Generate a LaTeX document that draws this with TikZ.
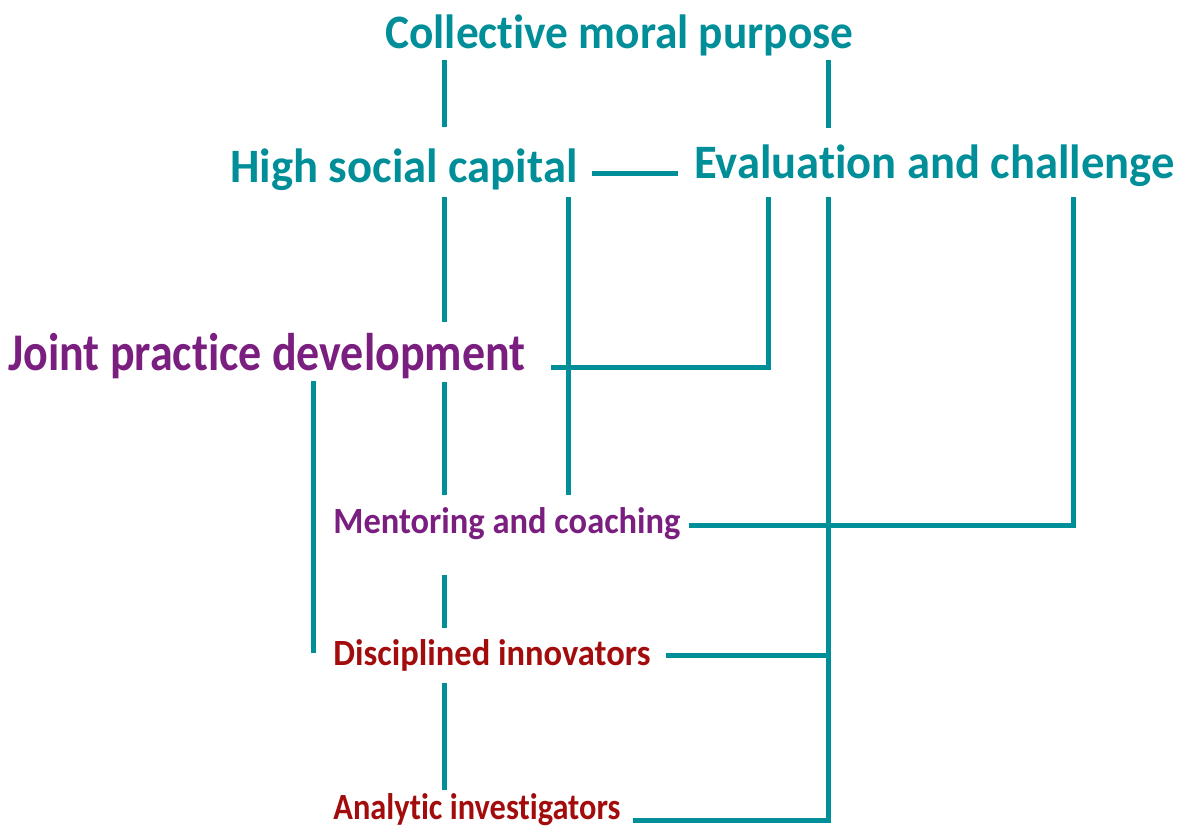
\documentclass[tikz,border=0pt]{standalone}
\usepackage{fontspec}
\setmainfont{Carlito}[Ligatures={NoCommon,NoContextual}, RawFeature={-calt}]
\usepackage{graphicx}
\usepackage{tikz}

\definecolor{linkteal}{RGB}{0,142,152}
\definecolor{jointpurple}{RGB}{122,30,128}
\definecolor{darkred}{RGB}{163,12,12}

% stretch a label to the width it has in the figure, keeping its height
\newcommand{\fitto}[2]{\resizebox{#1}{\height}{#2}}

\tikzset{
	link/.style={draw=linkteal, line width=2.5pt},
	lbl/.style={inner sep=0pt, anchor=base west},
	bigteal/.style={lbl, text=linkteal, font=\bfseries\fontsize{24}{28}\selectfont, text height=17pt, text depth=4.8pt},
	bigpurple/.style={lbl, text=jointpurple, font=\bfseries\fontsize{26.5}{30}\selectfont, text height=18.8pt, text depth=5.3pt},
	smallpurple/.style={lbl, text=jointpurple, font=\bfseries\fontsize{18.5}{22}\selectfont, text height=13.1pt, text depth=3.7pt},
	smallred/.style={smallpurple, text=darkred}
}

\begin{document}
\begin{tikzpicture}[x=0.5pt, y=-0.5pt]
			\useasboundingbox (0,0) rectangle (1180,827);
			% columns and rows of the connectors
			\coordinate (colF) at (313,0);
			\coordinate (colA) at (444,0);
			\coordinate (colB) at (568,0);
			\coordinate (colC) at (768,0);
			\coordinate (colD) at (828,0);
			\coordinate (colE) at (1073,0);
			\coordinate (rowA) at (0,173);
			\coordinate (rowB) at (0,367);
			\coordinate (rowC) at (0,525);
			\coordinate (rowD) at (0,655);
			\coordinate (rowE) at (0,820);

			\node[bigteal] (moral) at (385,48) {\fitto{234pt}{Collective moral purpose}};
			\node[bigteal] (social) at (230,182) {\fitto{173.5pt}{High social capital}};
			\node[bigteal] (evaluation) at (694,178) {\fitto{240pt}{Evaluation and challenge}};
			\node[bigpurple] (joint) at (8,370) {\fitto{258.5pt}{Joint practice development}};
			\node[smallpurple] (mentoring) at (333,533) {\fitto{173.5pt}{Mentoring and coaching}};
			\node[smallred] (innovators) at (333,665) {\fitto{158.5pt}{Disciplined innovators}};
			\node[smallred] (investigators) at (333,819) {\fitto{143.5pt}{Analytic investigators}};

			% left chain
			\draw[link, shorten <=1.2pt, shorten >=10.5pt] (moral.south -| colA) -- (social.north -| colA);
			\draw[link, shorten <=2.7pt, shorten >=5pt] (social.south -| colA) -- (joint.north -| colA);
			\draw[link, shorten <=0.7pt, shorten >=5.8pt] (joint.south -| colA) -- (mentoring.north -| colA);
			\draw[link, shorten <=17.3pt, shorten >=5.3pt] (mentoring.south -| colA) -- (innovators.north -| colA);
			\draw[link, shorten <=5.3pt, shorten >=1.3pt] (innovators.south -| colA) -- (investigators.north -| colA);
			\draw[link, shorten >=1.5pt] (joint.south -| colF) -- (innovators.west -| colF);
			\draw[link, shorten <=2.7pt, shorten >=5.8pt] (social.south -| colB) -- (mentoring.north -| colB);

			% right side
			\draw[link, shorten <=1.2pt, shorten >=8pt] (moral.south -| colD) -- (evaluation.north -| colD);
			\draw[link, shorten <=7pt, shorten >=8pt] (social.east |- rowA) -- (evaluation.west |- rowA);
			\draw[link, shorten <=4.7pt, shorten >=12.5pt] (evaluation.south -| colC) -- (colC |- rowB) -- (joint.east |- rowB);
			\draw[link, shorten <=4.7pt, shorten >=4pt] (evaluation.south -| colE) -- (colE |- rowC) -- (mentoring.east |- rowC);
			\draw[link, shorten <=4.7pt, shorten >=6pt] (evaluation.south -| colD) -- (colD |- rowE) -- (investigators.east |- rowE);
			\draw[link, shorten <=7.5pt] (innovators.east |- rowD) -- (colD |- rowD);
		\end{tikzpicture}
\end{document}
